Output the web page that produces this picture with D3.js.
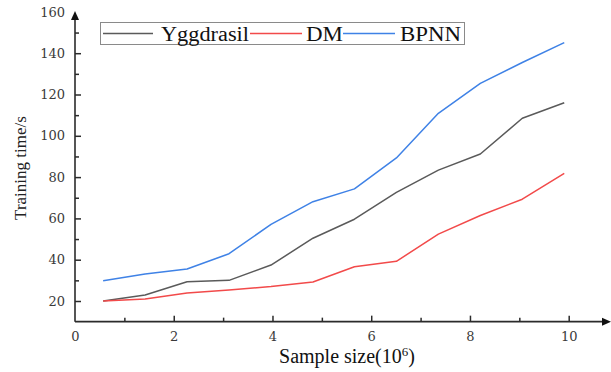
<!DOCTYPE html>
<html><head><meta charset="utf-8">
<script src="https://cdn.jsdelivr.net/npm/d3@7"></script>
<style>body{margin:0;background:#fff}svg{display:block}</style>
</head><body>
<svg id="c" width="611" height="372"></svg>
<script>
const sampleSizes = [0.57, 1.42, 2.27, 3.12, 3.97, 4.82, 5.66, 6.51, 7.36, 8.21, 9.06, 9.91];
const yggdrasil = [20, 22.9, 29.3, 30, 37.4, 50.4, 59.6, 72.6, 83.4, 91.2, 108.5, 116];
const dm = [20, 21, 23.9, 25.3, 27, 29.2, 36.6, 39.2, 52.4, 61.4, 69.3, 81.8];
const bpnn = [29.8, 33.1, 35.5, 42.9, 57.1, 68.1, 74.3, 89.3, 110.9, 125.4, 135.5, 145.1];
const seriesNames = ["Yggdrasil", "DM", "BPNN"];
const seriesColors = ["#5a5a5a", "#f24a4a", "#3f82e6"];
const xTicks = [0, 2, 4, 6, 8, 10];
const xMinor = [1, 3, 5, 7, 9];
const yTicks = [20, 40, 60, 80, 100, 120, 140, 160];
const yMinor = [30, 50, 70, 90, 110, 130, 150];

const svg = d3.select("#c");
const x = d3.scaleLinear().domain([0, 10]).range([75, 568.7]);
const y = d3.scaleLinear().domain([20, 140]).range([301, 53.2]);
const x0 = x(0), yb = y(10);
const axisColor = "#2b2b2b";

// axes
const gx = svg.append("g").attr("transform", `translate(0,${yb})`)
  .call(d3.axisBottom(x).tickValues(xTicks).tickSize(-6).tickPadding(10).tickFormat(d3.format("d")));
const gxm = svg.append("g").attr("transform", `translate(0,${yb})`)
  .call(d3.axisBottom(x).tickValues(xMinor).tickSize(-4).tickFormat(""));
const gy = svg.append("g").attr("transform", `translate(${x0},0)`)
  .call(d3.axisLeft(y).tickValues(yTicks).tickSize(-6).tickPadding(10).tickFormat(d3.format("d")));
const gym = svg.append("g").attr("transform", `translate(${x0},0)`)
  .call(d3.axisLeft(y).tickValues(yMinor).tickSize(-4).tickFormat(""));
[gx, gxm, gy, gym].forEach(g => {
  g.select(".domain").remove();
  g.selectAll(".tick line").attr("stroke", axisColor).attr("stroke-width", 1.5);
  g.selectAll(".tick text").attr("fill", "#3a3a3a").attr("font-family", "DejaVu Serif").attr("font-size", 13);
});
gx.selectAll(".tick").filter(d => d === 0).select("line").remove();
gy.selectAll(".tick").filter(d => d === 160).select("line").remove();

svg.append("line").attr("x1", x0).attr("x2", 604).attr("y1", yb).attr("y2", yb)
  .attr("stroke", axisColor).attr("stroke-width", 1.6);
svg.append("line").attr("x1", x0).attr("x2", x0).attr("y1", yb).attr("y2", 18)
  .attr("stroke", axisColor).attr("stroke-width", 1.6);
svg.append("path").attr("d", `M611,${yb} L602,${yb-4} L602,${yb+4} Z`).attr("fill", "#111");
svg.append("path").attr("d", `M${x0},11 L${x0-4},20 L${x0+4},20 Z`).attr("fill", "#111");

// lines
const allSeries = [yggdrasil, dm, bpnn];
const line = d3.line().x((d, i) => x(sampleSizes[i])).y(d => y(d));
allSeries.forEach((s, k) => {
  svg.append("path").datum(s).attr("d", line).attr("fill", "none")
    .attr("stroke", seriesColors[k]).attr("stroke-width", 1.5).attr("stroke-linejoin", "round");
});

// legend
svg.append("rect").attr("x", 100.5).attr("y", 22.5).attr("width", 364).attr("height", 22)
  .attr("fill", "#fff").attr("stroke", "#8a8a8a").attr("stroke-width", 1);
const legendItems = [
  {l1: 103, l2: 153, tx: 161, tw: 88},
  {l1: 250, l2: 302, tx: 306, tw: 37},
  {l1: 343, l2: 395, tx: 400, tw: 61}
];
legendItems.forEach((it, k) => {
  svg.append("line").attr("x1", it.l1).attr("x2", it.l2).attr("y1", 33.5).attr("y2", 33.5)
    .attr("stroke", seriesColors[k]).attr("stroke-width", 1.3);
  svg.append("text").attr("x", it.tx).attr("y", 40.5).text(seriesNames[k])
    .attr("font-family", "Liberation Serif").attr("font-size", 20).attr("fill", "#111")
    .attr("textLength", it.tw).attr("lengthAdjust", "spacingAndGlyphs");
});

// axis titles
const xt = svg.append("text").attr("x", 347).attr("y", 363).attr("text-anchor", "middle")
  .attr("font-family", "Liberation Serif").attr("font-size", 20).attr("fill", "#111");
xt.append("tspan").text("Sample size(10");
xt.append("tspan").text("6").attr("font-size", 13).attr("dy", -7);
xt.append("tspan").text(")").attr("dy", 7);

svg.append("text").attr("transform", "translate(26,168) rotate(-90)").attr("text-anchor", "middle")
  .attr("font-family", "Liberation Serif").attr("font-size", 17).attr("fill", "#222")
  .text("Training time/s");
</script>
</body></html>
